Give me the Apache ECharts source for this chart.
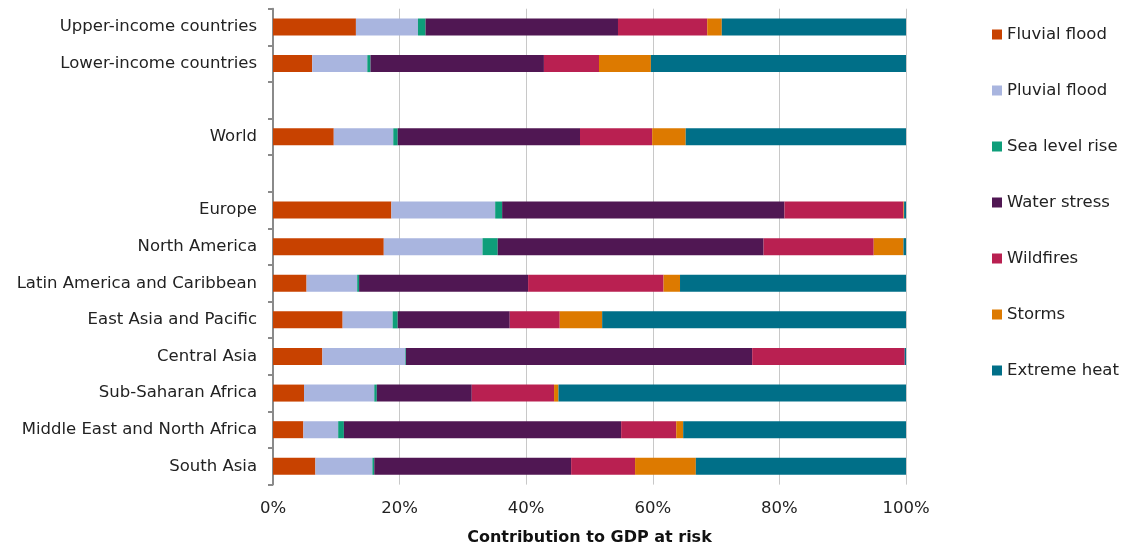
<!DOCTYPE html>
<html>
<head>
<meta charset="utf-8">
<script src="https://cdn.jsdelivr.net/npm/echarts@6/dist/echarts.min.js"></script>
<style>
  html, body { margin: 0; padding: 0; background: #fff; }
  #chart { width: 1125px; height: 547px; }
</style>
</head>
<body>
<div id="chart"></div>
<script>
// categories top to bottom; '' rows are the gaps
var regions = ['Upper-income countries', 'Lower-income countries', '', 'World', '',
    'Europe', 'North America', 'Latin America and Caribbean', 'East Asia and Pacific',
    'Central Asia', 'Sub-Saharan Africa', 'Middle East and North Africa', 'South Asia'];

var hazards = ['Fluvial flood', 'Pluvial flood', 'Sea level rise', 'Water stress',
    'Wildfires', 'Storms', 'Extreme heat'];

var hazardColors = ['#C84200', '#A9B5DF', '#0E9E7A', '#501753', '#B92051', '#DD7A00', '#006F88'];

// share (%) per region, same order as regions
var fluvial     = [13.1, 6.2, '-', 9.6, '-', 18.7, 17.5, 5.3, 11.0, 7.8, 4.9, 4.8, 6.7];
var pluvial     = [9.8, 8.7, '-', 9.4, '-', 16.4, 15.6, 8.0, 7.9, 13.1, 11.1, 5.5, 9.0];
var seaLevel    = [1.2, 0.5, '-', 0.7, '-', 1.1, 2.4, 0.3, 0.8, 0.1, 0.4, 0.9, 0.3];
var waterStress = [30.4, 27.4, '-', 28.8, '-', 44.6, 42.0, 26.7, 17.7, 54.7, 15.0, 43.8, 31.1];
var wildfires   = [14.1, 8.7, '-', 11.4, '-', 18.8, 17.4, 21.4, 7.9, 24.1, 13.0, 8.7, 10.1];
var storms      = [2.3, 8.2, '-', 5.3, '-', 0.1, 4.7, 2.6, 6.7, 0, 0.7, 1.1, 9.6];
var extremeHeat = [29.1, 40.3, '-', 34.8, '-', 0.3, 0.4, 35.7, 48.0, 0.3, 54.9, 35.2, 33.2];

var xTicks = [0, 20, 40, 60, 80, 100];

var seriesData = [fluvial, pluvial, seaLevel, waterStress, wildfires, storms, extremeHeat];

var chart = echarts.init(document.getElementById('chart'));
var font = '"DejaVu Sans", sans-serif';

var option = {
    animation: false,
    color: hazardColors,
    textStyle: { fontFamily: font },
    grid: { left: 273, right: 219, top: 8.7, bottom: 62.4, outerBoundsMode: 'none' },
    legend: {
        orient: 'vertical',
        left: 987,
        top: 21,
        itemWidth: 10,
        itemHeight: 10,
        itemGap: 39,
        icon: 'rect',
        textStyle: { fontSize: 16.5, color: '#222', fontFamily: font },
        data: hazards
    },
    xAxis: {
        type: 'value',
        min: xTicks[0],
        max: xTicks[xTicks.length - 1],
        interval: 20,
        name: 'Contribution to GDP at risk',
        nameLocation: 'middle',
        nameGap: 45,
        nameTextStyle: { fontSize: 16, fontWeight: 'bold', color: '#111', fontFamily: font },
        axisLine: { show: false },
        axisTick: { show: false },
        axisLabel: {
            fontSize: 16.5, color: '#222', margin: 16,
            formatter: function (v) { return v + '%'; }
        },
        splitLine: { lineStyle: { color: '#c8c8c8', width: 1 } }
    },
    yAxis: {
        type: 'category',
        inverse: true,
        data: regions,
        axisLine: { show: true, lineStyle: { color: '#8a8a8a', width: 2 } },
        axisTick: { show: true, length: 5, lineStyle: { color: '#8a8a8a', width: 2 } },
        axisLabel: { fontSize: 16.5, color: '#222', margin: 16 }
    },
    series: hazards.map(function (name, i) {
        return {
            name: name,
            type: 'bar',
            stack: 'total',
            barWidth: 17,
            data: seriesData[i]
        };
    })
};

chart.setOption(option);
</script>
</body>
</html>
